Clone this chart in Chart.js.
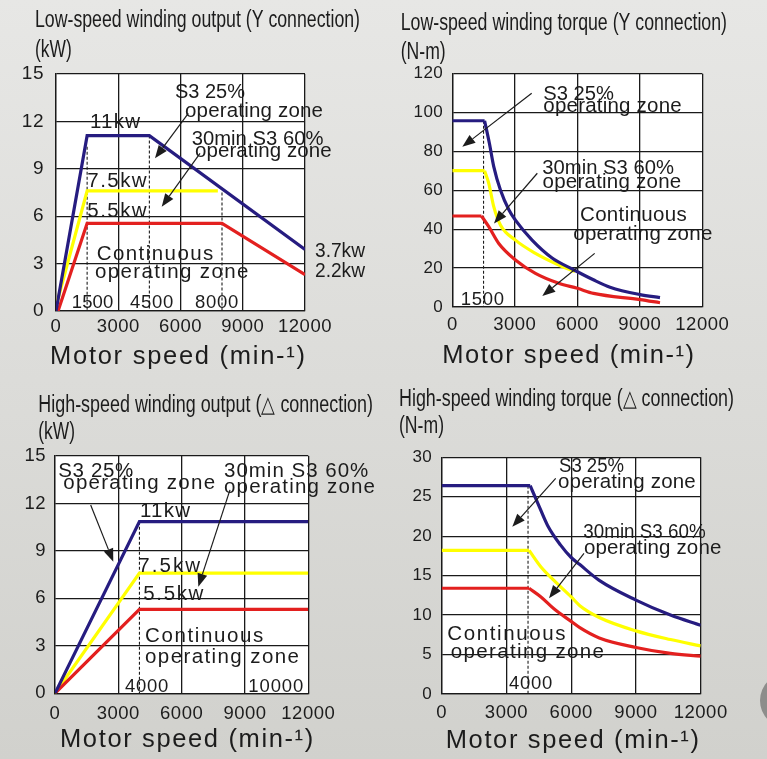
<!DOCTYPE html>
<html>
<head>
<meta charset="utf-8">
<script src="https://cdn.jsdelivr.net/npm/chart.js"></script>
<style>
  html, body { margin: 0; padding: 0; }
  body {
    width: 767px; height: 759px; overflow: hidden; position: relative;
    background: linear-gradient(180deg, #e7e7e5 0%, #dcdcd9 50%, #d1d1cd 100%);
  }
  canvas { position: absolute; }
  #knob { position: absolute; left: 760px; top: 673px; width: 55px; height: 55px; border-radius: 50%; background: #8d8d8b; }
</style>
</head>
<body>
<canvas id="c1" width="384" height="380" style="left:0;top:0"></canvas>
<canvas id="c2" width="383" height="380" style="left:384px;top:0"></canvas>
<canvas id="c3" width="384" height="379" style="left:0;top:380px"></canvas>
<canvas id="c4" width="383" height="379" style="left:384px;top:380px"></canvas>
<div id="knob"></div>
<script>
// tick labels
const speedTicks = [0, 3000, 6000, 9000, 12000];
const outputTicks = [0, 3, 6, 9, 12, 15];
const lowTorqueTicks = [0, 20, 40, 60, 80, 100, 120];
const highTorqueTicks = [0, 5, 10, 15, 20, 25, 30];

// low-speed winding output, [speed, kW]
const lowOutS3_25 = [[0, 0], [1500, 11.1], [4500, 11.1], [12000, 3.9]];
const lowOutS3_60 = [[0, 0.3], [1500, 7.6], [7800, 7.6]];
const lowOutCont = [[100, 0], [1500, 5.55], [8000, 5.55], [12000, 2.3]];
const lowOutMarks = [[1500, 10.4], [4500, 11.1], [8000, 7.5]];

// low-speed winding torque, [speed, N-m]
const lowTqS3_25 = [[0, 95.8], [1550, 95.8], [1780, 84.2], [1990, 72.2], [2310, 60.2], [2720, 49.9], [3030, 44.7],
  [3830, 34.4], [4790, 25.2], [5800, 19.3], [6770, 14], [7570, 10.2], [9010, 6.4], [9970, 4.8]];
const lowTqS3_60 = [[0, 70.1], [1550, 70.1], [1750, 63.6], [1990, 51.6], [2310, 42.2], [3030, 34.4], [3990, 27.6],
  [5110, 21.6], [5900, 18.2]];
const lowTqCont = [[0, 46.8], [1400, 46.8], [1750, 41.3], [2230, 32.7], [3030, 24.2], [3990, 17.3], [5110, 12.2],
  [6000, 9.6], [6780, 7], [9010, 3.8], [9970, 2.2]];
const lowTqMarks = [[1500, 95.8]];

// high-speed winding output, [speed, kW]
const highOutS3_25 = [[0, 0], [4000, 10.85], [12000, 10.85]];
const highOutS3_60 = [[0, 0], [4000, 7.6], [12000, 7.6]];
const highOutCont = [[0, 0], [4000, 5.3], [12000, 5.3]];
const highOutMarks = [[4000, 10.85]];

// high-speed winding torque, [speed, N-m]
const highTqS3_25 = [[0, 26.4], [4100, 26.4], [4450, 24.2], [4900, 21.4], [5500, 18.9], [6000, 17.3], [6400, 16.4],
  [7300, 14.4], [9000, 11.9], [10600, 10], [12000, 8.7]];
const highTqS3_60 = [[0, 18.2], [4050, 18.2], [4600, 16.1], [5200, 14.4], [6000, 12.3], [6400, 11.2], [7300, 9.7],
  [9000, 8], [10600, 6.9], [12000, 6.1]];
const highTqCont = [[0, 13.4], [4050, 13.4], [4600, 12.3], [5200, 10.8], [6000, 9.2], [6400, 8.4], [7300, 7.1],
  [9000, 5.9], [10600, 5.15], [12000, 4.8]];
const highTqMarks = [[4000, 26.4]];

const COLORS = { s325: '#261c80', s360: '#ffff00', cont: '#e3201f', ink: '#1c1c1c', grid: '#1a1a1a' };
const FONT = '"Liberation Sans", Arial, sans-serif';
const AXIS_TITLE = 'Motor speed (min-\u00b9)';

function lineSet(points, color, curved) {
  return {
    data: points.map(([x, y]) => ({ x, y })),
    borderColor: color,
    borderWidth: 3.2,
    borderJoinStyle: 'miter',
    pointRadius: 0,
    showLine: true,
    fill: false,
    tension: 0,
    cubicInterpolationMode: curved ? 'monotone' : 'default',
  };
}

// torque curves: flat part straight, falling part smooth
function series(points, color, curved) {
  if (!curved) return [lineSet(points, color, false)];
  return [lineSet(points.slice(0, 2), color, false), lineSet(points.slice(1), color, true)];
}

function marks(list) {
  return list.map(([x, top]) => ({
    data: [{ x, y: top }, { x, y: 0 }],
    borderColor: COLORS.ink,
    borderWidth: 1.1,
    borderDash: [3, 2],
    pointRadius: 0,
    showLine: true,
    fill: false,
  }));
}

// stretch with letter spacing, or squeeze if the text is too wide
function fitText(ctx, text, x, y, width) {
  ctx.letterSpacing = '0px';
  const natural = ctx.measureText(text).width;
  const n = [...text].length;
  if (natural >= width || n < 2) {
    ctx.fillText(text, x, y, width);
  } else if ('letterSpacing' in ctx) {
    ctx.letterSpacing = ((width - natural) / (n - 1)).toFixed(2) + 'px';
    ctx.fillText(text, x, y);
  } else {
    ctx.save();
    ctx.translate(x, y);
    ctx.scale(width / natural, 1);
    ctx.fillText(text, 0, 0);
    ctx.restore();
  }
}

function arrow(ctx, x1, y1, x2, y2) {
  const a = Math.atan2(y2 - y1, x2 - x1), len = 13, half = 5;
  const bx = x2 - len * Math.cos(a), by = y2 - len * Math.sin(a);
  ctx.beginPath();
  ctx.moveTo(x1, y1);
  ctx.lineTo(bx, by);
  ctx.stroke();
  ctx.beginPath();
  ctx.moveTo(x2, y2);
  ctx.lineTo(bx + half * Math.sin(a), by - half * Math.cos(a));
  ctx.lineTo(bx - half * Math.sin(a), by + half * Math.cos(a));
  ctx.closePath();
  ctx.fill();
}

function overlay(spec) {
  return {
    id: 'overlay',
    beforeDraw(chart) {
      const { ctx, chartArea: a } = chart;
      ctx.save();
      ctx.fillStyle = '#fff';
      ctx.fillRect(a.left, a.top, a.right - a.left, a.bottom - a.top);
      ctx.restore();
      ctx.letterSpacing = '0.5px';
    },
    afterDatasetsDraw(chart) {
      const { ctx, scales: { x, y } } = chart;
      ctx.save();
      ctx.fillStyle = COLORS.ink;
      ctx.strokeStyle = COLORS.ink;
      ctx.lineWidth = 1.2;
      spec.arrows.forEach(([sx, sy, ex, ey]) =>
        arrow(ctx, x.getPixelForValue(sx), y.getPixelForValue(sy), x.getPixelForValue(ex), y.getPixelForValue(ey)));
      ctx.textBaseline = 'alphabetic';
      ctx.textAlign = 'left';
      spec.notes.forEach(([text, sx, sy, w]) => {
        // speed marks inside the plot are set a little smaller
        ctx.font = (/^\d+$/.test(text) ? '18.5px ' : '20.5px ') + FONT;
        fitText(ctx, text, x.getPixelForValue(sx), y.getPixelForValue(sy), w);
      });
      ctx.restore();
    },
    afterDraw(chart) {
      const { ctx } = chart;
      ctx.save();
      ctx.fillStyle = COLORS.ink;
      ctx.textAlign = 'left';
      ctx.textBaseline = 'alphabetic';
      ctx.letterSpacing = '0px';
      ctx.font = '23px ' + FONT;
      spec.titles.forEach(([text, tx, ty, w]) => ctx.fillText(text, tx, ty, w));
      ctx.font = '25.5px ' + FONT;
      const [ax, ay, aw] = spec.axisTitle;
      fitText(ctx, AXIS_TITLE, ax, ay, aw);
      ctx.restore();
    },
  };
}

function makeChart(id, spec) {
  return new Chart(document.getElementById(id), {
    type: 'scatter',
    data: { datasets: spec.datasets },
    options: {
      responsive: false,
      animation: false,
      events: [],
      devicePixelRatio: 1,
      layout: { padding: spec.padding },
      plugins: { legend: { display: false }, tooltip: { enabled: false } },
      scales: {
        x: {
          type: 'linear', min: 0, max: 12000,
          afterBuildTicks: s => { s.ticks = speedTicks.map(v => ({ value: v })); },
          afterFit: s => { s.height = 64; },
          ticks: { color: COLORS.ink, font: { family: FONT, size: 18.5 }, padding: spec.xPad, maxRotation: 0, callback: v => String(v) },
          grid: { color: COLORS.grid, lineWidth: 1.3, drawTicks: false },
          border: { color: COLORS.grid, width: 1.3 },
        },
        y: {
          type: 'linear', min: spec.yTicks[0], max: spec.yTicks[spec.yTicks.length - 1],
          afterBuildTicks: s => { s.ticks = spec.yTicks.map(v => ({ value: v })); },
          afterFit: s => { s.width = spec.yWidth; },
          ticks: { color: COLORS.ink, font: { family: FONT, size: spec.yFont }, padding: spec.yPad, callback: v => String(v) },
          grid: { color: COLORS.grid, lineWidth: 1.3, drawTicks: false },
          border: { color: COLORS.grid, width: 1.3 },
        },
      },
    },
    plugins: [overlay(spec)],
  });
}

makeChart('c1', {
  yTicks: outputTicks, yWidth: 56, yFont: 19, yPad: 12, xPad: 4.4,
  padding: { top: 74, right: 79, bottom: 5, left: 0 },
  datasets: [
    ...series(lowOutS3_25, COLORS.s325), ...series(lowOutCont, COLORS.cont), ...series(lowOutS3_60, COLORS.s360),
    ...marks(lowOutMarks),
  ],
  titles: [['Low-speed winding output (Y connection)', 35, 27, 325], ['(kW)', 35, 56.7, 36.7]],
  axisTitle: [50, 364.3, 255],
  notes: [
    ['S3 25%', 5735, 13.48, 70], ['operating zone', 6217, 12.3, 138], ['11kw', 1639, 11.56, 50],
    ['30min S3 60%', 6540, 10.5, 131.7], ['operating zone', 6699, 9.77, 136.7],
    ['7.5kw', 1510, 7.87, 59.3], ['5.5kw', 1510, 5.97, 59.3],
    ['Continuous', 1960, 3.23, 116.7], ['operating zone', 1880, 2.07, 153.3],
    ['1500', 755, 0.17, 41.7], ['4500', 3566, 0.17, 43.3], ['8000', 6699, 0.17, 43.3],
    ['3.7kw', 12482, 3.44, 50], ['2.2kw', 12482, 2.17, 50],
  ],
  arrows: [[6376, 12.51, 4771, 9.66], [6940, 9.98, 5094, 6.6]],
});

makeChart('c2', {
  yTicks: lowTorqueTicks, yWidth: 68.3, yFont: 17, yPad: 9, xPad: 6.6,
  padding: { top: 73.7, right: 64.7, bottom: 9, left: 0 },
  datasets: [
    ...series(lowTqS3_25, COLORS.s325, true), ...series(lowTqCont, COLORS.cont, true), ...series(lowTqS3_60, COLORS.s360, true),
    ...marks(lowTqMarks),
  ],
  titles: [['Low-speed winding torque (Y connection)', 16.7, 30, 326.3], ['(N-m)', 16.7, 59.3, 45]],
  axisTitle: [58.3, 363.3, 251.7],
  notes: [
    ['S3 25%', 4368, 106.5, 70.7], ['operating zone', 4368, 100.5, 138.3],
    ['30min S3 60%', 4320, 68.4, 131.7], ['operating zone', 4330, 61.4, 138.7],
    ['Continuous', 6130, 44.4, 106.7], ['operating zone', 5808, 34.5, 139],
    ['1500', 403, 1, 43.3],
  ],
  arrows: [[3811, 109.9, 480, 82.4], [4080, 68.8, 2002, 43], [6835, 27.6, 4320, 5.66]],
});

makeChart('c3', {
  yTicks: outputTicks, yWidth: 55, yFont: 18.5, yPad: 9, xPad: 9.8,
  padding: { top: 76, right: 75.7, bottom: 1.7, left: 0 },
  datasets: [
    ...series(highOutS3_25, COLORS.s325), ...series(highOutCont, COLORS.cont), ...series(highOutS3_60, COLORS.s360),
    ...marks(highOutMarks),
  ],
  titles: [['High-speed winding output (\u25b3 connection)', 38.3, 31.7, 334.7], ['(kW)', 38.3, 59.3, 36.7]],
  axisTitle: [60, 366.7, 253.3],
  notes: [
    ['S3 25%', 156, 13.7, 75], ['operating zone', 393, 12.9, 151.7],
    ['30min S3 60%', 8006, 13.65, 144.3], ['operating zone', 8006, 12.68, 151],
    ['11kw', 4027, 11.16, 50], ['7.5kw', 3948, 7.69, 61.7], ['5.5kw', 4185, 5.9, 60],
    ['Continuous', 4264, 3.26, 118.3], ['operating zone', 4264, 1.9, 154],
    ['4000', 3316, 0.1, 43.3], ['10000', 9159, 0.1, 55],
  ],
  arrows: [[1690, 11.9, 2762, 8.32], [8290, 12.86, 6790, 6.74]],
});

makeChart('c4', {
  yTicks: highTorqueTicks, yWidth: 57.7, yFont: 17, yPad: 9.4, xPad: 7.4,
  padding: { top: 77.3, right: 66.3, bottom: 1, left: 0 },
  datasets: [
    ...series(highTqS3_25, COLORS.s325, true), ...series(highTqCont, COLORS.cont, true), ...series(highTqS3_60, COLORS.s360, true),
    ...marks(highTqMarks),
  ],
  titles: [['High-speed winding torque (\u25b3 connection)', 15, 26, 335], ['(N-m)', 15, 53.3, 45]],
  axisTitle: [61.7, 368.3, 253.3],
  notes: [
    ['S3 25%', 5435, 28.2, 65], ['operating zone', 5389, 26.07, 137.7],
    ['30min S3 60%', 6561, 19.73, 122.3], ['operating zone', 6593, 17.74, 137.3],
    ['Continuous', 259, 6.84, 118.3], ['operating zone', 417, 4.52, 153.3],
    ['4000', 3118, 0.6, 43.3],
  ],
  arrows: [[5282, 27.34, 3271, 21.2], [6593, 17.83, 4971, 12.13]],
});
</script>
</body>
</html>
